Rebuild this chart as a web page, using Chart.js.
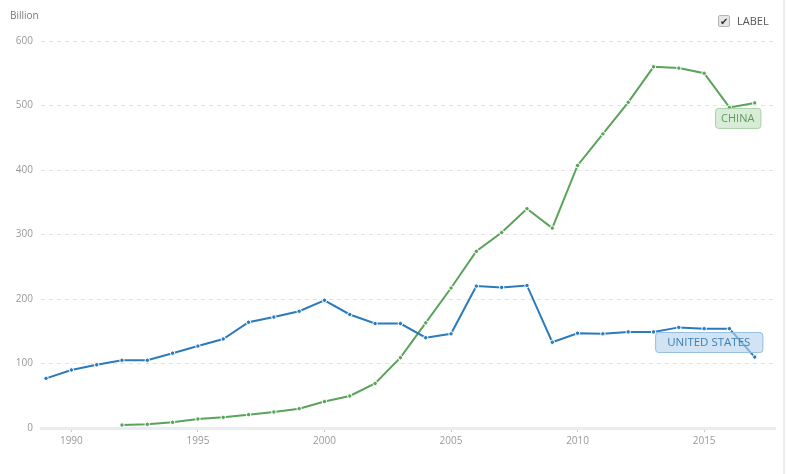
<!DOCTYPE html>
<html>
<head>
<meta charset="utf-8">
<script src="https://cdn.jsdelivr.net/npm/chart.js@4/dist/chart.umd.min.js"></script>
<style>
  html, body { margin: 0; padding: 0; background: #fff; }
  #wrap { position: relative; width: 786px; height: 474px; font-family: "Open Sans", sans-serif; }
  #wrap::after { content: ''; position: absolute; left: 783px; top: 0; width: 2px; height: 474px; background: #eeeeee; }
  #unit { position: absolute; left: 10px; top: 8px; font-size: 10px; color: #777; }
  #legend { position: absolute; left: 718px; top: 13px; font-size: 11px; color: #555; display: flex; align-items: center; }
  #legend .box { width: 10px; height: 10px; border: 1px solid #b5b5b5; border-radius: 2px; background: #e6e6e6;
                 font-size: 10px; line-height: 10px; text-align: center; color: #333; margin-right: 7px; }
</style>
</head>
<body>
<div id="wrap">
  <canvas id="chart" width="786" height="474"></canvas>
  <div id="unit">Billion</div>
  <div id="legend"><span class="box">&#10004;</span>LABEL</div>
</div>
<script>
// 연도와 값 (단위: 십억)
const years = [1989, 1990, 1991, 1992, 1993, 1994, 1995, 1996, 1997, 1998, 1999, 2000, 2001, 2002, 2003,
               2004, 2005, 2006, 2007, 2008, 2009, 2010, 2011, 2012, 2013, 2014, 2015, 2016, 2017];
const usValues = [77, 90, 98, 105, 105, 116, 127, 138, 164, 172, 181, 198, 176, 162, 162,
                  140, 146, 220, 218, 221, 133, 147, 146, 149, 149, 156, 154, 154, 110];
const chinaValues = [null, null, null, 4.6, 5.7, 8.8, 14, 16.5, 20.7, 24.8, 30, 41, 49.6, 69, 109,
                     163, 217, 274, 303, 340, 310, 407, 456, 505, 560, 558, 550, 497, 504];
const xTicks = [1990, 1995, 2000, 2005, 2010, 2015];
const seriesNames = ['UNITED STATES', 'CHINA'];

const US_COLOR = '#2b7bba';
const CN_COLOR = '#5aa35b';

function toPoints(vals) {
  return years.map((y, i) => ({ x: y, y: vals[i] }));
}

// 마지막 점 옆에 시리즈 이름 상자 표시
const endLabels = {
  id: 'endLabels',
  afterDatasetsDraw(chart) {
    const ctx = chart.ctx;
    const opts = [
      { fill: 'rgba(180, 210, 236, 0.6)', stroke: '#93bde0', text: '#3a7fb8', dx: -46, dy: -15, pad: 24, size: 11.5 },
      { fill: 'rgba(200, 228, 200, 0.7)', stroke: '#a8d0a8', text: '#5b9c5b', dx: -17, dy: 15, pad: 12, size: 11 }
    ];
    chart.data.datasets.forEach((ds, i) => {
      const meta = chart.getDatasetMeta(i);
      const last = meta.data[meta.data.length - 1];
      const o = opts[i];
      ctx.save();
      ctx.font = o.size + 'px "Open Sans"';
      const w = ctx.measureText(ds.label).width + o.pad;
      const h = 20;
      const cx = last.x + o.dx, cy = last.y + o.dy;
      const x = cx - w / 2, y = cy - h / 2;
      ctx.beginPath();
      ctx.roundRect(x + 0.5, y + 0.5, w, h, 3);
      ctx.fillStyle = o.fill;
      ctx.fill();
      ctx.strokeStyle = o.stroke;
      ctx.lineWidth = 1;
      ctx.stroke();
      ctx.fillStyle = o.text;
      ctx.textAlign = 'center';
      ctx.textBaseline = 'middle';
      ctx.fillText(ds.label, cx, cy + 1);
      ctx.restore();
    });
  }
};

new Chart(document.getElementById('chart'), {
  type: 'line',
  data: {
    datasets: [
      {
        label: seriesNames[0],
        data: toPoints(usValues),
        borderColor: US_COLOR,
        backgroundColor: US_COLOR,
        borderWidth: 2,
        pointRadius: 2.2,
        pointBorderWidth: 1,
        pointBorderColor: '#fff',
        pointBackgroundColor: US_COLOR,
        tension: 0
      },
      {
        label: seriesNames[1],
        data: toPoints(chinaValues),
        borderColor: CN_COLOR,
        backgroundColor: CN_COLOR,
        borderWidth: 2,
        pointRadius: 2.2,
        pointBorderWidth: 1,
        pointBorderColor: '#fff',
        pointBackgroundColor: CN_COLOR,
        spanGaps: false,
        tension: 0
      }
    ]
  },
  options: {
    responsive: false,
    animation: false,
    layout: { padding: { left: 0, right: 11, top: 41, bottom: 0 } },
    plugins: {
      legend: { display: false },
      tooltip: { enabled: false }
    },
    scales: {
      x: {
        type: 'linear',
        min: 1988.8,
        max: 2017.8,
        afterBuildTicks: (scale) => { scale.ticks = xTicks.map(v => ({ value: v })); },
        afterFit: (scale) => { scale.height = 46; },
        ticks: {
          callback: (v) => String(v),
          color: '#999',
          font: { family: 'Open Sans', size: 10 },
          padding: 3,
          maxRotation: 0
        },
        grid: {
          drawOnChartArea: false,
          drawTicks: true,
          tickLength: 4,
          tickColor: '#cccccc'
        },
        border: { display: true, color: '#e8eded', width: 3 }
      },
      y: {
        min: 0,
        max: 600,
        afterFit: (scale) => { scale.width = 41; },
        ticks: {
          stepSize: 100,
          color: '#999',
          font: { family: 'Open Sans', size: 10 },
          padding: 8
        },
        grid: {
          drawTicks: false,
          color: (c) => c.tick && c.tick.value === 0 ? 'rgba(0,0,0,0)' : '#e3e3e3',
          lineWidth: 1
        },
        border: { display: false, dash: [4, 4] }
      }
    }
  },
  plugins: [endLabels]
});
</script>
</body>
</html>
